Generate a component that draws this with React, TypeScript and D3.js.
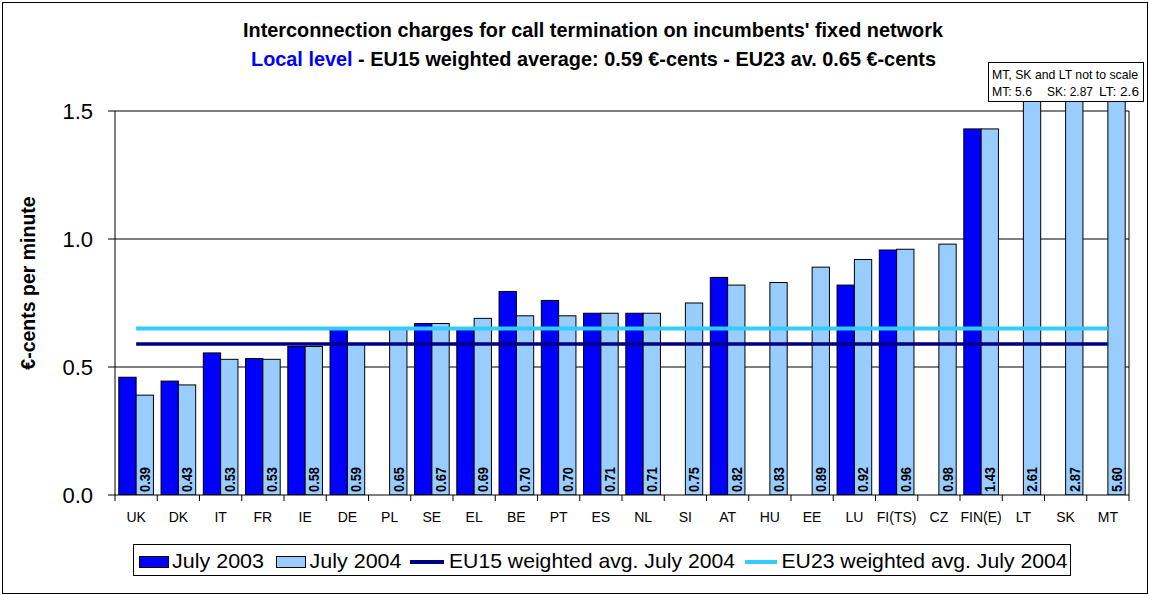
import React from "react";
import * as d3 from "d3";

const categories = ["UK","DK","IT","FR","IE","DE","PL","SE","EL","BE","PT","ES","NL","SI","AT","HU","EE","LU","FI(TS)","CZ","FIN(E)","LT","SK","MT"];
const july2003: (number | null)[] = [0.46,0.445,0.555,0.533,0.58,0.65,null,0.67,0.645,0.795,0.76,0.71,0.71,null,0.85,null,null,0.82,0.957,null,1.43,null,null,null];
const july2004: number[] = [0.39,0.43,0.53,0.53,0.58,0.59,0.65,0.67,0.69,0.70,0.70,0.71,0.71,0.75,0.82,0.83,0.89,0.92,0.96,0.98,1.43,2.61,2.87,5.60];
const eu15Avg = 0.59;
const eu23Avg = 0.65;
const yTicks = [0, 0.5, 1.0, 1.5];
const legendLabels = ["July 2003", "July 2004", "EU15 weighted avg. July 2004", "EU23 weighted avg. July 2004"];

const FONT = "'Liberation Sans', Arial, Helvetica, sans-serif";
const DARK = "#0000FF";
const LIGHT = "#99CCFF";
const NAVY = "#000080";
const CYAN = "#33CCFF";

export default function App() {
  const W = 1149, H = 595;
  const left = 115, right = 1129, top = 111, bottom = 495;
  const x = d3.scaleBand<string>().domain(categories).range([left, right]).padding(0);
  const y = d3.scaleLinear().domain([0, 1.5]).range([bottom, top]);
  const bw = x.bandwidth();
  const barW = bw * 0.41;
  const off = (bw - 2 * barW) / 2;
  const lineX1 = (x(categories[0]) as number) + bw / 2;
  const lineX2 = (x(categories[categories.length - 1]) as number) + bw / 2;

  return (
    <svg width={W} height={H} style={{ position: "absolute", left: 0, top: 0, background: "#fff" }} fontFamily={FONT}>
      <defs>
        <clipPath id="plotclip">
          <rect x={left} y={100} width={right - left} height={bottom - 100} />
        </clipPath>
      </defs>
      <rect x={2.5} y={2.5} width={1145} height={591} fill="#fff" stroke="#000" strokeWidth={1} />

      {/* Title */}
      <text x={593} y={37} textAnchor="middle" fontWeight="bold" fontSize={20.5} textLength={700} lengthAdjust="spacingAndGlyphs">
        Interconnection charges for call termination on incumbents' fixed network
      </text>
      <text x={593.5} y={66} textAnchor="middle" fontWeight="bold" fontSize={20.5} textLength={685} lengthAdjust="spacingAndGlyphs">
        <tspan fill="#0000FF">Local level</tspan>
        <tspan fill="#000"> - EU15 weighted average: 0.59 €-cents - EU23 av. 0.65 €-cents</tspan>
      </text>

      {/* Gridlines */}
      {yTicks.filter(t => t > 0).map(t => (
        <line key={t} x1={left} x2={right} y1={y(t)} y2={y(t)} stroke="#000" strokeWidth={1} />
      ))}
      <line x1={right} x2={right} y1={top} y2={bottom} stroke="#000" strokeWidth={1} />

      {/* Bars */}
      <g clipPath="url(#plotclip)">
        {categories.map((c, i) => {
          const bx = x(c) as number;
          const v3 = july2003[i];
          const v4 = july2004[i];
          return (
            <g key={c}>
              {v3 !== null && (
                <rect x={bx + off} y={y(v3)} width={barW} height={bottom - y(v3)} fill={DARK} stroke="#000" strokeWidth={1} />
              )}
              <rect x={bx + off + barW} y={y(v4)} width={barW} height={bottom - y(v4)} fill={LIGHT} stroke="#000" strokeWidth={1} />
            </g>
          );
        })}
      </g>

      {/* Average lines */}
      <line x1={lineX1} x2={lineX2} y1={y(eu23Avg)} y2={y(eu23Avg)} stroke={CYAN} strokeWidth={4} />
      <line x1={lineX1} x2={lineX2} y1={y(eu15Avg)} y2={y(eu15Avg)} stroke={NAVY} strokeWidth={3.5} />

      {/* Value labels */}
      {categories.map((c, i) => {
        const cx = (x(c) as number) + off + barW * 1.5;
        return (
          <text key={c} transform={`translate(${cx},${bottom - 3}) rotate(-90)`} dy="0.36em" fontSize={14.5} fontWeight="bold" textLength={25} lengthAdjust="spacingAndGlyphs" fill="#000">
            {july2004[i].toFixed(2)}
          </text>
        );
      })}

      {/* Axes */}
      <line x1={left} x2={left} y1={top} y2={bottom} stroke="#000" strokeWidth={1} />
      <line x1={left} x2={right} y1={bottom} y2={bottom} stroke="#000" strokeWidth={1} />
      {yTicks.map(t => (
        <g key={t}>
          <line x1={left - 7} x2={left} y1={y(t)} y2={y(t)} stroke="#000" strokeWidth={1} />
          <text x={93} y={y(t)} dy="0.36em" textAnchor="end" fontSize={22}>{t.toFixed(1)}</text>
        </g>
      ))}
      {[...categories.map(c => x(c) as number), right].map((tx, i) => (
        <line key={i} x1={tx} x2={tx} y1={bottom} y2={bottom + 6} stroke="#000" strokeWidth={1} />
      ))}
      {categories.map(c => (
        <text key={c} x={(x(c) as number) + bw / 2} y={522} textAnchor="middle" fontSize={14}>{c}</text>
      ))}

      {/* Y axis title */}
      <text transform="translate(35,283) rotate(-90)" textAnchor="middle" fontWeight="bold" fontSize={19.5}>€-cents per minute</text>

      {/* Annotation box */}
      <rect x={988.5} y={62.5} width={155} height={39} fill="#fff" stroke="#000" strokeWidth={1} />
      <text x={992} y={79} fontSize={13} textLength={146} lengthAdjust="spacingAndGlyphs">MT, SK and LT not to scale</text>
      <text x={992} y={96} fontSize={13} textLength={40} lengthAdjust="spacingAndGlyphs">MT: 5.6</text>
      <text x={1047} y={96} fontSize={13} textLength={46} lengthAdjust="spacingAndGlyphs">SK: 2.87</text>
      <text x={1099} y={96} fontSize={13} textLength={40} lengthAdjust="spacingAndGlyphs">LT: 2.6</text>

      {/* Legend */}
      <rect x={133.5} y={544.5} width={937} height={31} fill="#fff" stroke="#000" strokeWidth={1} />
      <rect x={139.5} y={556.5} width={29} height={11} fill={DARK} stroke="#000" strokeWidth={1} />
      <text x={172} y={568} fontSize={21} textLength={92} lengthAdjust="spacingAndGlyphs">{legendLabels[0]}</text>
      <rect x={276.5} y={556.5} width={29} height={11} fill={LIGHT} stroke="#000" strokeWidth={1} />
      <text x={309.5} y={568} fontSize={21} textLength={92} lengthAdjust="spacingAndGlyphs">{legendLabels[1]}</text>
      <line x1={410} x2={444} y1={562} y2={562} stroke={NAVY} strokeWidth={4} />
      <text x={449} y={568} fontSize={21} textLength={286} lengthAdjust="spacingAndGlyphs">{legendLabels[2]}</text>
      <line x1={745} x2={777} y1={562} y2={562} stroke={CYAN} strokeWidth={4} />
      <text x={781.5} y={568} fontSize={21} textLength={286} lengthAdjust="spacingAndGlyphs">{legendLabels[3]}</text>
    </svg>
  );
}
